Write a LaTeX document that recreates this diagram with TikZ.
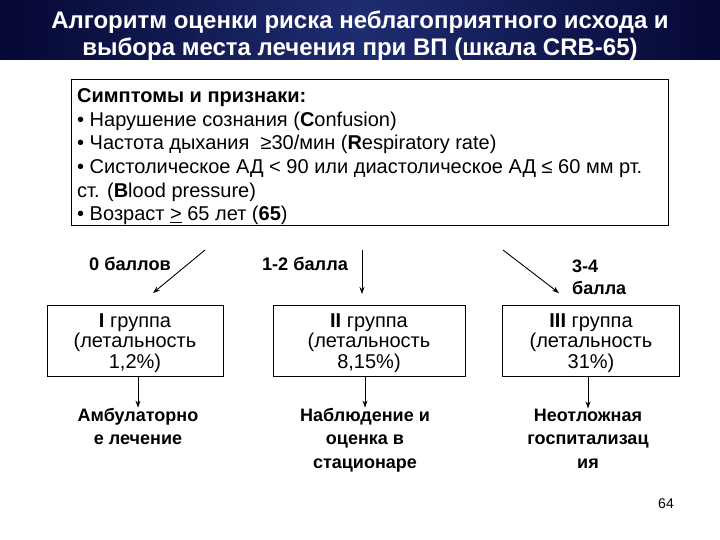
\documentclass[tikz,border=0pt]{standalone}
\usepackage{fontspec}
\setmainfont{Liberation Sans}
\usetikzlibrary{arrows.meta}
\definecolor{navyedge}{RGB}{6,8,52}
\definecolor{navymid}{RGB}{30,44,112}
\begin{document}
\begin{tikzpicture}[x=1pt,y=-1pt,
  arr/.style={-{Stealth[length=7pt,width=5pt]}, line width=0.9pt},
  box/.style={draw, line width=0.9pt, fill=white, inner sep=0pt},
  grptxt/.style={font=\fontsize{20}{20.5}\selectfont, align=center, inner sep=0pt},
  outtxt/.style={font=\bfseries\fontsize{18}{23.5}\selectfont, align=center, inner sep=0pt},
  lbl/.style={font=\bfseries\fontsize{18.2}{23}\selectfont, inner sep=0pt}]
\useasboundingbox (0,0) rectangle (720,540);
\fill[white] (0,0) rectangle (720,540);
% title band
\shade[left color=navyedge, right color=navyedge, middle color=navymid] (0,0) rectangle (720,60);
\node[font=\bfseries\fontsize{24}{26.5}\selectfont, text=white, align=center, inner sep=0pt, anchor=base] (title) at (360,55.5)
  {Алгоритм оценки риска неблагоприятного исхода и\\выбора места лечения при ВП (шкала CRB-65)};
% symptoms box
\node[box, anchor=north west, minimum width=597, minimum height=146] (sym) at (71,79) {};
\node[anchor=base west, align=left, inner sep=0pt, font=\fontsize{20}{23.5}\selectfont] (symtxt) at (77,220.5)
  {\textbf{Симптомы и признаки:}\\
   • Нарушение сознания (\textbf{C}onfusion)\\
   • Частота дыхания\ \ ≥30/мин (\textbf{R}espiratory rate)\\
   • Систолическое АД < 90 или диастолическое АД ≤ 60 мм рт.\\
   ст. (\textbf{B}lood pressure)\\
   • Возраст \underline{>} 65 лет (\textbf{65})};
% score labels
\node[lbl, anchor=base] (l0) at (130,270) {0 баллов};
\node[lbl, anchor=base] (l12) at (305,270) {1-2 балла};
\node[lbl, anchor=base west, align=left, font=\bfseries\fontsize{18}{22}\selectfont] (l34) at (572,294) {3-4\\балла};
% arrow coordinates
\coordinate (a0s) at (205,250);
\coordinate (a0e) at (153,293);
\coordinate (a1s) at (362,250);
\coordinate (a1e) at (362,294);
\coordinate (a2s) at (503,250);
\coordinate (a2e) at (559,293);
\draw[arr] (a0s) -- (a0e);
\draw[arr] (a1s) -- (a1e);
\draw[arr] (a2s) -- (a2e);
% group boxes
\node[box, minimum width=176, minimum height=71] (g1) at (135,341) {};
\node[box, minimum width=192, minimum height=71] (g2) at (369,341) {};
\node[box, minimum width=177, minimum height=71] (g3) at (591,341) {};
\node[grptxt, anchor=base] (g1t) at (135,368) {\textbf{I} группа\\(летальность\\1,2\%)};
\node[grptxt, anchor=base] (g2t) at (369,368) {\textbf{II} группа\\(летальность\\8,15\%)};
\node[grptxt, anchor=base] (g3t) at (591,368) {\textbf{III} группа\\(летальность\\31\%)};
% outcomes
\node[outtxt, anchor=base] (o1) at (138,444.5) {Амбулаторно\\е лечение};
\node[outtxt, anchor=base] (o2) at (365,468) {Наблюдение и\\оценка в\\стационаре};
\node[outtxt, anchor=base] (o3) at (588,468) {Неотложная\\госпитализац\\ия};
\draw[arr] (g1.south -| o1.north) -- (o1.north);
\draw[arr] (g2.south -| o2.north) -- (o2.north);
\draw[arr] (g3.south -| o3.north) -- (o3.north);
% page number
\node[font=\fontsize{14}{16}\selectfont, inner sep=0pt, anchor=base] (pg) at (666,508) {64};
\end{tikzpicture}
\end{document}
